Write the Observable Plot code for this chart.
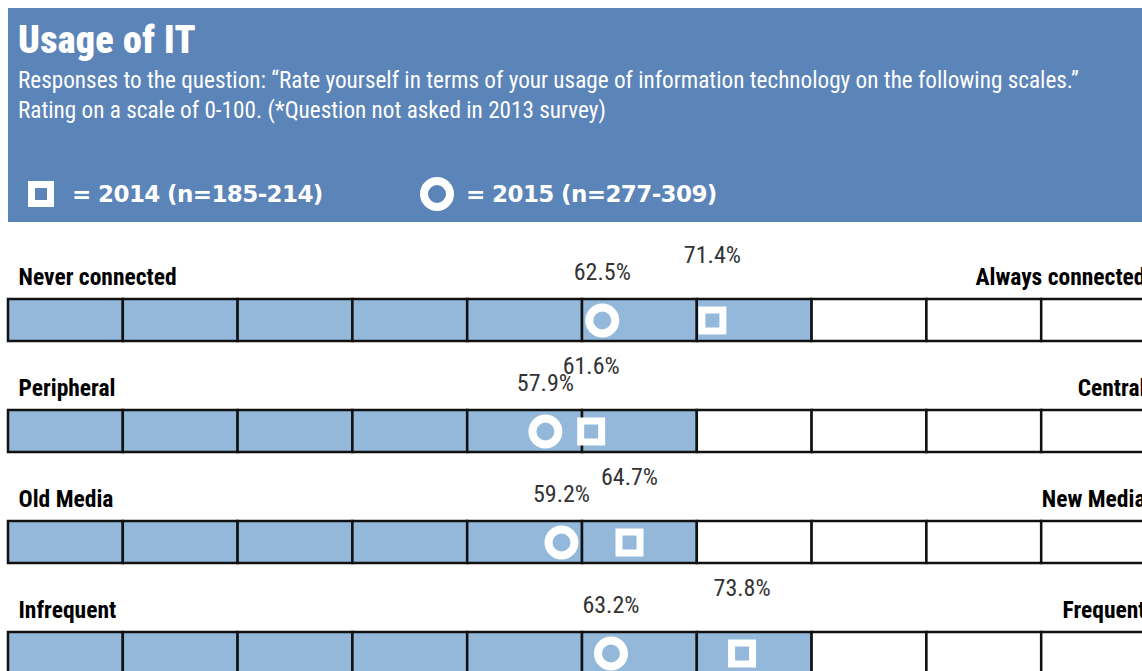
<!DOCTYPE html>
<html>
<head>
<meta charset="utf-8">
<script src="https://cdn.jsdelivr.net/npm/d3@7"></script>
<script src="https://cdn.jsdelivr.net/npm/@observablehq/plot@0.6"></script>
<style>
  html, body { margin: 0; padding: 0; background: white; overflow: hidden; width: 1142px; height: 671px; }
  #header { position: absolute; left: 8px; top: 8px; width: 1134px; height: 214px; background: #5b84b8; color: white; }
  .narrow { font-family: "Liberation Sans Narrow", "Roboto Condensed", "DejaVu Sans Condensed", "Arial Narrow", sans-serif; }
  #title { position: absolute; left: 10px; top: 12px; font-size: 38px; font-weight: 900; line-height: 40px; letter-spacing: 0.3px; }
  #sub { position: absolute; left: 10px; top: 57px; font-size: 23.2px; line-height: 30px; }
  .leg { position: absolute; top: 166px; font-family: "DejaVu Sans", sans-serif; font-weight: bold; font-size: 23px; letter-spacing: -0.6px; line-height: 40px; display: flex; align-items: center; }
  #chart { position: absolute; left: 0; top: 222px; }
</style>
</head>
<body>
<div id="header">
  <div id="title" class="narrow">Usage of IT</div>
  <div id="sub" class="narrow"></div>
  <div class="leg" style="left:20px"><svg width="26" height="26" style="margin-right:18px"><rect x="3.5" y="3.5" width="19" height="19" fill="none" stroke="white" stroke-width="7"/></svg><span id="leg14"></span></div>
  <div class="leg" style="left:412px"><svg width="34" height="34" style="margin-right:12px"><circle cx="17" cy="17" r="13" fill="none" stroke="white" stroke-width="8"/></svg><span id="leg15"></span></div>
</div>
<div id="chart"></div>
<script>
const titleText = "Usage of IT";
const subtitleLines = [
  "Responses to the question: \u201CRate yourself in terms of your usage of information technology on the following scales.\u201D",
  "Rating on a scale of 0-100. (*Question not asked in 2013 survey)"
];
const legend2014 = "= 2014 (n=185-214)";
const legend2015 = "= 2015 (n=277-309)";

const leftLabels = ["Never connected", "Peripheral", "Old Media", "Infrequent"];
const rightLabels = ["Always connected", "Central", "New Media", "Frequent"];
const values2015 = [62.5, 57.9, 59.2, 63.2];
const values2014 = [71.4, 61.6, 64.7, 73.8];
const cellCount = 10;

document.getElementById("title").textContent = titleText;
document.getElementById("sub").innerHTML = subtitleLines.join("<br>");
document.getElementById("leg14").textContent = legend2014;
document.getElementById("leg15").textContent = legend2015;

// The strip of ten cells, as the infographic drew it, spans about this value range
const xDomain = [14.5, 107.3];
const cellEdges = d3.range(cellCount + 1).map(k => xDomain[0] + (xDomain[1] - xDomain[0]) * k / cellCount);

const data = leftLabels.map((row, i) => ({
  row, right: rightLabels[i], v2015: values2015[i], v2014: values2014[i]
}));
const cells = data.flatMap(d => {
  const top = Math.max(d.v2014, d.v2015);
  return d3.range(cellCount).map(k => ({
    row: d.row, lo: cellEdges[k], hi: cellEdges[k + 1], filled: cellEdges[k] <= top
  }));
});

const narrow = "'Liberation Sans Narrow', 'Roboto Condensed', 'DejaVu Sans Condensed', 'Arial Narrow', sans-serif";

const chart = Plot.plot({
  width: 1160,
  height: 449,
  marginLeft: 0, marginRight: 15, marginTop: 0, marginBottom: 0,
  style: { maxWidth: "none", overflow: "visible", background: "transparent", fontFamily: narrow },
  x: { domain: xDomain, range: [8, 1156], axis: null },
  y: { domain: leftLabels, range: [76, 453], paddingInner: 0.624, paddingOuter: 0, axis: null },
  marks: [
    Plot.barX(cells, {
      x1: "lo", x2: "hi", y: "row",
      fill: d => d.filled ? "#93b8da" : "white",
      stroke: "#111", strokeWidth: 2.5
    }),
    Plot.dot(data, { x: "v2015", y: "row", r: 13, fill: "none", stroke: "white", strokeWidth: 8 }),
    Plot.dot(data, { x: "v2014", y: "row", symbol: "square", r: 11.85, fill: "none", stroke: "white", strokeWidth: 7 }),
    Plot.text(data, { x: "v2015", y: "row", dy: -48, text: d => d.v2015.toFixed(1) + "%", fontSize: 24, fill: "#333" }),
    Plot.text(data, { x: "v2014", y: "row", dy: -65, text: d => d.v2014.toFixed(1) + "%", fontSize: 24, fill: "#333" }),
    Plot.text(data, { frameAnchor: "left", dx: 18, y: "row", dy: -43, text: "row", textAnchor: "start", fontSize: 23.5, fontWeight: "bold", fill: "#000" }),
    Plot.text(data, { frameAnchor: "right", y: "row", dy: -43, text: "right", textAnchor: "end", fontSize: 23.5, fontWeight: "bold", fill: "#000" })
  ]
});
document.getElementById("chart").appendChild(chart);
</script>
</body>
</html>
